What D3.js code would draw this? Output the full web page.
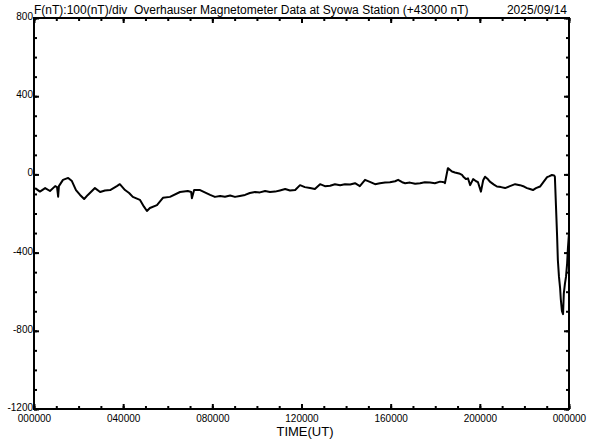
<!DOCTYPE html>
<html>
<head>
<meta charset="utf-8">
<script src="https://cdn.jsdelivr.net/npm/d3@7"></script>
<style>
  body { margin: 0; background: #fff; }
  text { font-family: "Liberation Sans", Arial, sans-serif; fill: #000; white-space: pre; }
</style>
</head>
<body>
<div id="chart"></div>
<script>
// Syowa Station Overhauser magnetometer, F - 43000 nT, 2025/09/14
// time in minutes from 00:00 UT, value in nT
const times = [3, 16, 30, 43, 57, 62, 65, 67, 78, 92, 102, 113, 124, 135, 145, 164, 178, 191, 205, 223,
  231, 245, 256, 266, 285, 296, 304, 312, 331, 347, 366, 393, 414, 423, 425, 431, 447, 474, 487, 501,
  514, 528, 541, 554, 568, 581, 595, 608, 622, 635, 649, 662, 676, 689, 703, 716, 729, 743, 756, 770,
  783, 797, 810, 824, 837, 851, 864, 877, 891, 904, 918, 931, 945, 958, 972, 980, 991, 999, 1012, 1026,
  1039, 1052, 1066, 1079, 1093, 1104, 1106, 1114, 1125, 1133, 1144, 1152, 1157, 1163, 1168, 1174, 1182, 1190, 1195, 1203,
  1209, 1214, 1222, 1227, 1238, 1246, 1257, 1268, 1281, 1295, 1308, 1319, 1327, 1335, 1343, 1351, 1362, 1370, 1381, 1386,
  1394, 1400, 1402, 1405, 1408, 1410, 1413, 1416, 1418, 1421, 1424, 1426, 1429, 1432, 1435, 1437, 1440]
const values = [-70, -88, -70, -85, -60, -65, -114, -60, -28, -18, -34, -80, -105, -126, -105, -70, -90, -82, -80, -60,
  -50, -80, -95, -115, -130, -165, -187, -172, -157, -120, -115, -90, -85, -90, -122, -80, -80, -105, -115, -110,
  -114, -108, -115, -110, -105, -95, -90, -92, -85, -90, -88, -82, -75, -82, -80, -55, -65, -70, -75, -50,
  -60, -58, -50, -55, -50, -52, -45, -60, -28, -38, -50, -45, -42, -40, -35, -28, -40, -45, -42, -48,
  -45, -40, -42, -45, -37, -40, -45, 32, 15, 10, 5, -3, -15, -24, -20, -55, -24, -35, -40, -88,
  -30, -12, -25, -37, -52, -62, -65, -70, -60, -50, -55, -62, -70, -75, -80, -70, -62, -42, -14, -10,
  -3, -5, -12, -165, -318, -438, -523, -580, -640, -700, -715, -610, -560, -523, -455, -380, -300]

const yMajor = [800, 400, 0, -400, -800, -1200]
const xMajor = [0, 240, 480, 720, 960, 1200, 1440]
const xLabels = ["000000", "040000", "080000", "120000", "160000", "200000", "000000"]

const titleText = "F(nT):100(nT)/div  Overhauser Magnetometer Data at Syowa Station (+43000 nT)"
const dateText = "2025/09/14"

const W = 592, H = 440
const mLeft = 34, mRight = 569, mTop = 18, mBottom = 409

const svg = d3.select("#chart").append("svg")
    .attr("width", W)
    .attr("height", H)

const x = d3.scaleLinear().domain([0, 1440]).range([mLeft, mRight])
const y = d3.scaleLinear().domain([-1200, 800]).range([mBottom, mTop])

const hourly = d3.range(0, 1441, 60)
const hundreds = d3.range(-1200, 801, 100)

// minor ticks (inward on all four sides)
function minor(axis, vals, size){
    return axis.tickValues(vals).tickSize(-size).tickFormat("")
}
svg.append("g").attr("transform", `translate(0,${mBottom})`).call(minor(d3.axisBottom(x), hourly, 3))
svg.append("g").attr("transform", `translate(0,${mTop})`).call(minor(d3.axisTop(x), hourly, 3))
svg.append("g").attr("transform", `translate(${mLeft},0)`).call(minor(d3.axisLeft(y), hundreds, 3))
svg.append("g").attr("transform", `translate(${mRight},0)`).call(minor(d3.axisRight(y), hundreds, 3))

// major ticks
svg.append("g").attr("transform", `translate(0,${mBottom})`).attr("class", "xmaj")
    .call(d3.axisBottom(x).tickValues(xMajor).tickSize(-5).tickPadding(10)
        .tickFormat((d, i) => xLabels[i]))
svg.append("g").attr("transform", `translate(0,${mTop})`).call(minor(d3.axisTop(x), xMajor, 5))
svg.append("g").attr("transform", `translate(${mLeft},0)`).attr("class", "ymaj")
    .call(d3.axisLeft(y).tickValues(yMajor).tickSize(-5).tickPadding(1).tickFormat(d => String(d)))
svg.append("g").attr("transform", `translate(${mRight},0)`).call(minor(d3.axisRight(y), yMajor, 5))

svg.selectAll(".domain").remove()
svg.selectAll(".tick line").attr("stroke", "#000").attr("stroke-width", 2)
svg.selectAll(".tick text").attr("font-size", 10).attr("font-family", "Liberation Sans, Arial, sans-serif")
svg.selectAll(".xmaj .tick text").attr("dy", "0.3em")
svg.selectAll(".ymaj .tick text").attr("dy", "0.15em")

// frame
svg.append("rect")
    .attr("x", mLeft).attr("y", mTop)
    .attr("width", mRight - mLeft).attr("height", mBottom - mTop)
    .attr("fill", "none").attr("stroke", "#000").attr("stroke-width", 2)

// data line
const pts = times.map((t, i) => [t, values[i]])
svg.append("path")
    .datum(pts)
    .attr("fill", "none")
    .attr("stroke", "#000")
    .attr("stroke-width", 2)
    .attr("stroke-linejoin", "round")
    .attr("d", d3.line().x(d => x(d[0])).y(d => y(d[1])))

// titles
svg.append("text").attr("x", mLeft).attr("y", 14)
    .attr("font-size", 12).text(titleText)
svg.append("text").attr("x", 567).attr("y", 14)
    .attr("font-size", 12).attr("text-anchor", "end").text(dateText)
svg.append("text").attr("x", 305).attr("y", 436)
    .attr("font-size", 13).attr("text-anchor", "middle").text("TIME(UT)")
</script>
</body>
</html>
